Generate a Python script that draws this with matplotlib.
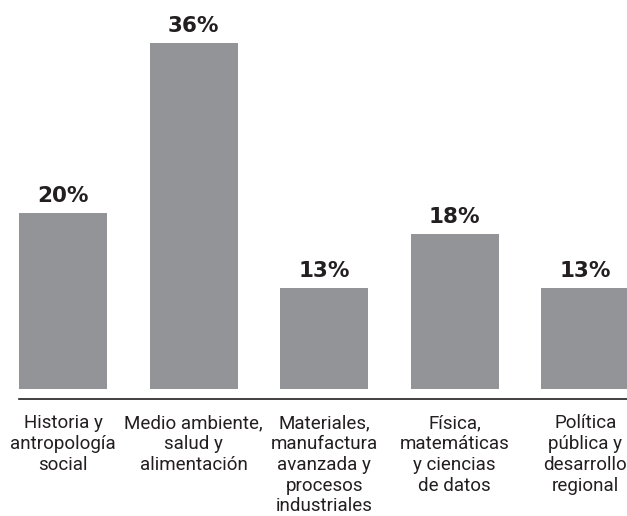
import matplotlib.pyplot as plt

# Research areas and their share of projects (%)
categories = [
    "Historia y\nantropología\nsocial",
    "Medio ambiente,\nsalud y\nalimentación",
    "Materiales,\nmanufactura\navanzada y\nprocesos\nindustriales",
    "Física,\nmatemáticas\ny ciencias\nde datos",
    "Política\npública y\ndesarrollo\nregional",
]
shares = [20, 36, 13, 18, 13]

BAR_COLOR = "#939498"
TEXT_COLOR = "#231f20"

fig = plt.figure(figsize=(6.27, 5.16), dpi=100)
ax = fig.add_axes([19 / 627, 127 / 516, 608 / 627, 389 / 516])

x = list(range(len(shares)))
bars = ax.bar(x, shares, width=0.674, color=BAR_COLOR)

# value labels above each bar
for rect, v in zip(bars, shares):
    ax.annotate(f"{v}%", (rect.get_x() + rect.get_width() / 2, v),
                xytext=(0, 8), textcoords="offset points",
                ha="center", va="baseline", fontsize=15.5, fontweight="bold",
                family="DejaVu Sans", color=TEXT_COLOR, annotation_clip=False)

ax.set_xlim(-0.337, 4.32)
ax.set_ylim(3.5, 40)

for side in ("top", "right", "left"):
    ax.spines[side].set_visible(False)
ax.spines["bottom"].set_position(("outward", 7.2))
ax.spines["bottom"].set_color(TEXT_COLOR)
ax.spines["bottom"].set_linewidth(1.2)

ax.set_yticks([])
ax.set_xticks(x)
ax.set_xticklabels(categories, fontsize=13.5, family="Roboto",
                   color=TEXT_COLOR, linespacing=1.2)
ax.tick_params(axis="x", length=0, pad=11)

fig.savefig("out.png", dpi=100)
